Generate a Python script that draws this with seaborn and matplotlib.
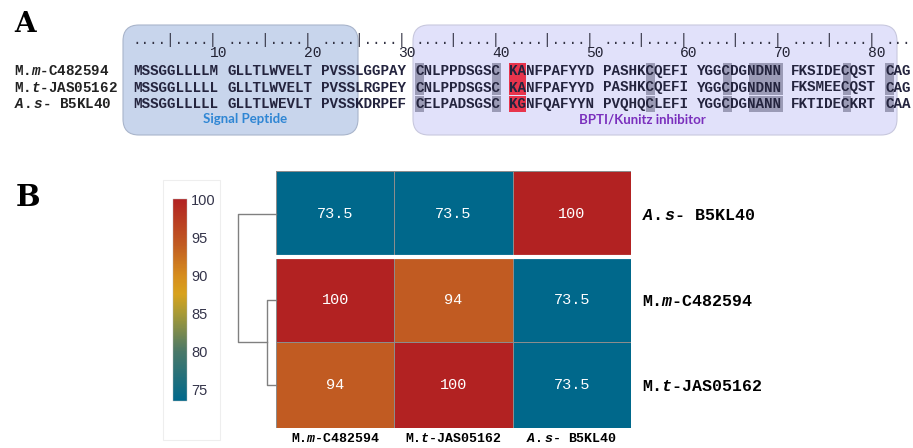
import numpy as np
import pandas as pd
import seaborn as sns
import matplotlib.pyplot as plt
from matplotlib.colors import LinearSegmentedColormap
from matplotlib.patches import FancyBboxPatch, Rectangle

# mono labels with italic genus/species part
plt.rcParams['mathtext.fontset'] = 'custom'
plt.rcParams['mathtext.it'] = 'Liberation Mono:italic:bold'
plt.rcParams['mathtext.rm'] = 'Liberation Mono:bold'
plt.rcParams['mathtext.bf'] = 'Liberation Mono:bold'

# ---- data ----
seq_labels = [r'M.$\mathit{m}$-C482594', r'M.$\mathit{t}$-JAS05162', r'$\mathit{A.s}$- B5KL40']
seqs = [
    'MSSGGLLLLMGLLTLWVELTPVSSLGGPAYCNLPPDSGSCKANFPAFYYDPASHKCQEFIYGGCDGNDNNFKSIDECQSTCAG',
    'MSSGGLLLLLGLLTLWVELTPVSSLRGPEYCNLPPDSGSCKANFPAFYYDPASHKCQEFIYGGCDGNDNNFKSMEECQSTCAG',
    'MSSGGLLLLLGLLTLWEVLTPVSSKDRPEFCELPADSGSCKGNFQAFYYNPVQHQCLEFIYGGCDGNANNFKTIDECKRTCAA',
]
gray_cols = [31, 40, 56, 64, 67, 68, 69, 70, 77, 81]
red_cols = [41, 42]

names = ['M.m-C482594', 'M.t-JAS05162', 'A.s- B5KL40']
identity = np.array([[100, 94, 73.5],
                     [94, 100, 73.5],
                     [73.5, 73.5, 100]])
row_order = [2, 0, 1]

# ---- figure ----
fig = plt.figure(figsize=(9.13, 4.48), dpi=100)
axA = fig.add_axes([0, 0, 1, 1])
axA.set_xlim(0, 913)
axA.set_ylim(448, 0)
axA.axis('off')

mono = 'Liberation Mono'
cw = 8.55          # character width (px)
x0 = 133
row_y = [71, 87.5, 104]


def col_x(c):
    # left edge of residue column c (1-based), blocks of 10 separated by a space
    return x0 + (c - 1 + (c - 1) // 10) * cw


# panel letters
axA.text(14, 25, 'A', fontsize=20, fontweight='bold', family='DejaVu Serif', va='center', ha='left')
axA.text(16, 197, 'B', fontsize=21, fontweight='bold', family='DejaVu Serif', va='center', ha='left')

# domain boxes
axA.add_patch(FancyBboxPatch((123, 25), 235, 110, boxstyle='round,pad=0,rounding_size=16',
                             fc='#c8d5ec', ec='#a9b5cb', lw=0.8, zorder=1))
axA.add_patch(FancyBboxPatch((413, 25), 484, 110, boxstyle='round,pad=0,rounding_size=16',
                             fc='#e1e1fa', ec='#c8c8de', lw=0.8, zorder=1))
axA.text(245, 119, 'Signal Peptide', family='Lato', fontweight='bold', fontsize=9.5,
         color='#2f86d4', ha='center', va='center')
axA.text(642, 119, 'BPTI/Kunitz inhibitor', family='Lato', fontweight='bold', fontsize=9.5,
         color='#7a2fbd', ha='center', va='center')

# highlighted residues
for r in range(len(seqs)):
    for c in gray_cols:
        axA.add_patch(Rectangle((col_x(c), row_y[r] - 8), cw, 16, fc='#9b9bb6', ec='none', zorder=2))
    for c in red_cols:
        axA.add_patch(Rectangle((col_x(c), row_y[r] - 8), cw, 16, fc='#e8344c', ec='none', zorder=2))

# ruler + numbers
n = len(seqs[0])
for b in range(0, n, 10):
    ruler = '....|....|'[:min(10, n - b)]
    axA.text(col_x(b + 1), 40, ruler, family=mono, fontsize=10.26, color='#333344',
             ha='left', va='center', zorder=3)
for num in range(10, n, 10):
    axA.text(col_x(num) + cw, 53, str(num), family=mono, fontsize=10.5,
             color='#222233', ha='center', va='center', zorder=3)

# sequences
for r, seq in enumerate(seqs):
    axA.text(14, row_y[r], seq_labels[r], family=mono, fontsize=10.26, fontweight='bold',
             color='#222222', ha='left', va='center', zorder=3)
    for b in range(0, len(seq), 10):
        axA.text(col_x(b + 1), row_y[r], seq[b:b + 10], family=mono, fontsize=10.26,
                 fontweight='bold', color='#24243e', ha='left', va='center', zorder=3)

# faint frame around colorbar
axA.add_patch(Rectangle((163, 180), 57, 260, fc='none', ec='#eeeeee', lw=0.8))

# ---- panel B: identity heatmap ----
df = pd.DataFrame(identity, index=names, columns=names).iloc[row_order]

cmap = LinearSegmentedColormap.from_list('ident', [
    (0.0, '#00688b'), (0.245, '#4a7868'), (0.434, '#a89a35'), (0.53, '#d8a21c'),
    (0.62, '#d68d1d'), (0.774, '#c15c22'), (1.0, '#b22222')])

axH = fig.add_axes([276 / 913, 1 - 428 / 448, 355 / 913, 257 / 448])
cax = fig.add_axes([173 / 913, 1 - 401 / 448, 14 / 913, 202 / 448])

sns.heatmap(df, ax=axH, cbar_ax=cax, cmap=cmap, vmin=73.5, vmax=100,
            annot=True, fmt='g',
            annot_kws={'color': 'white', 'fontsize': 11, 'family': mono},
            linewidths=0.6, linecolor='#8c8c8c')
axH.axhline(1, color='white', lw=3)

axH.yaxis.tick_right()
axH.set_yticklabels([seq_labels[i] for i in row_order], rotation=0, family=mono,
                    fontweight='bold', fontsize=12)
axH.set_xticklabels(seq_labels, rotation=0, family=mono, fontweight='bold', fontsize=9.5)
axH.tick_params(axis='y', length=0, pad=8)
axH.tick_params(axis='x', length=0, pad=3)
axH.set_xlabel('')
axH.set_ylabel('')

cax.set_yticks([75, 80, 85, 90, 95, 100])
cax.tick_params(length=0, labelsize=10.5, labelcolor='#34344a', pad=3)
for lbl in cax.get_yticklabels():
    lbl.set_family('Liberation Sans')
cbar = axH.collections[0].colorbar
cbar.outline.set_linewidth(0.3)
cbar.outline.set_edgecolor('#bbbbbb')

# ---- row dendrogram (average linkage on 100 - identity) ----
d_pair = 100 - identity[0, 1]
d_root = 100 - identity[2, :2].mean()
axD = fig.add_axes([238 / 913, 1 - 428 / 448, 38 / 913, 257 / 448])
axD.set_xlim(d_root, 0)
axD.set_ylim(3, 0)
axD.axis('off')
lc = dict(color='#808080', lw=1, clip_on=False)
axD.plot([0, d_root, d_root, d_pair], [0.5, 0.5, 2.0, 2.0], **lc)
axD.plot([0, d_pair, d_pair, 0], [1.5, 1.5, 2.5, 2.5], **lc)

fig.savefig('out.png', dpi=100)
